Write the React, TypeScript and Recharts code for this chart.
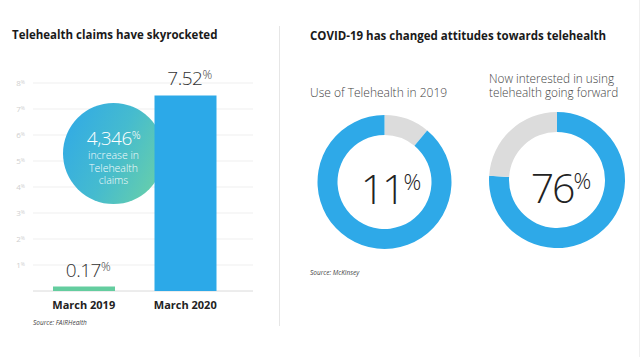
import React from 'react';
import {
  BarChart, Bar, XAxis, YAxis, CartesianGrid, Cell, LabelList,
  PieChart, Pie,
} from 'recharts';

const categories = ['March 2019', 'March 2020'];
const claimShare = [0.17, 7.52];
const barColors = ['#64cd9f', '#2ca9e8'];
const yTicks = [1, 2, 3, 4, 5, 6, 7, 8];

const donutLabels = ['11', '76'];
const use2019 = [
  { name: 'gap', value: 11, fill: '#dcdcdc' },
  { name: 'used', value: 89, fill: '#2ea9e8' },
];
const interested = [
  { name: 'yes', value: 76, fill: '#2ea9e8' },
  { name: 'no', value: 24, fill: '#dcdcdc' },
];

const barData = categories.map((c, i) => ({ name: c, value: claimShare[i] }));

const FONT = '"Open Sans", sans-serif';
const W = 280;
const H = 357;
// x axis height (30) sits inside the bottom margin
const MARGIN = { top: 83, right: 27, left: 0, bottom: 36 };

const YTick = (props: any) => {
  const { x, y, payload } = props;
  return (
    <text x={x} y={y + 3} textAnchor="end" fill="#cfcfcf" fontSize={8} fontFamily={FONT}>
      {payload.value}
      <tspan fontSize={5} dy={-2}>%</tspan>
    </text>
  );
};

const XTick = (props: any) => {
  const { x, y, payload } = props;
  return (
    <text x={x} y={y + 10} textAnchor="middle" fill="#222" fontSize={11} fontWeight={700} fontFamily={FONT}>
      {payload.value}
    </text>
  );
};

const ValueLabel = (props: any) => {
  const { x, y, width, value } = props;
  return (
    <text x={x + width / 2 + 4} y={y - 10} textAnchor="middle" fill="#333" fontSize={19} fontWeight={300} fontFamily={FONT} letterSpacing={-0.5}>
      {value}
      <tspan fontSize={12} dy={-6}>%</tspan>
    </text>
  );
};

const CenterText = ({ left, top, txt }: { left: number; top: number; txt: string }) => (
  <div style={{
    position: 'absolute', left: left - 60, top: top - 30, width: 120, height: 60,
    textAlign: 'center', fontSize: 41, fontWeight: 300, color: '#222', lineHeight: '60px', letterSpacing: -2,
  }}>
    {txt}<span style={{ fontSize: 22, verticalAlign: 14, letterSpacing: 0 }}>%</span>
  </div>
);

export default function App() {
  return (
    <div style={{ position: 'absolute', left: 0, top: 0, width: 641, height: 357, background: '#fff', fontFamily: FONT, overflow: 'hidden' }}>
      <div style={{ position: 'absolute', left: 12, top: 27, fontSize: 11.5, fontWeight: 700, color: '#1a1a1a', whiteSpace: 'nowrap' }}>
        Telehealth claims have skyrocketed
      </div>
      <div style={{ position: 'absolute', left: 310, top: 28, fontSize: 11.5, fontWeight: 700, color: '#1a1a1a', whiteSpace: 'nowrap' }}>
        COVID-19 has changed attitudes towards telehealth
      </div>

      {/* bottom layer: grid + axes */}
      <div style={{ position: 'absolute', left: 0, top: 0 }}>
        <BarChart width={W} height={H} data={barData} margin={MARGIN}>
          <CartesianGrid vertical={false} stroke="#efefef" />
          <XAxis dataKey="name" tick={<XTick />} tickLine={false} axisLine={{ stroke: '#e2e2e2' }} padding={{ left: 0, right: 17 }} interval={0} />
          <YAxis domain={[0, 8]} ticks={yTicks} interval={0} tick={<YTick />} tickLine={false} axisLine={false} width={33} tickSize={0} tickMargin={8} />
          <Bar dataKey="value" barSize={62} fill="transparent" isAnimationActive={false} />
        </BarChart>
      </div>

      {/* bubble */}
      <div style={{
        position: 'absolute', left: 63, top: 103, width: 101, height: 101, borderRadius: '50%',
        background: 'linear-gradient(115deg, #2fa8e8 0%, #45bbcf 50%, #6fd3a2 100%)',
        color: '#fff', textAlign: 'center',
      }}>
        <div style={{ marginTop: 21, fontSize: 19, fontWeight: 300, letterSpacing: -0.5, lineHeight: '22px' }}>
          4,346<span style={{ fontSize: 11, verticalAlign: 6 }}>%</span>
        </div>
        <div style={{ fontSize: 10.5, fontWeight: 300, lineHeight: '12.5px', opacity: 0.95 }}>
          increase in<br />Telehealth<br />claims
        </div>
      </div>

      {/* top layer: bars */}
      <div style={{ position: 'absolute', left: 0, top: 0 }}>
        <BarChart width={W} height={H} data={barData} margin={MARGIN}>
          <XAxis dataKey="name" tick={false} tickLine={false} axisLine={false} padding={{ left: 0, right: 17 }} />
          <YAxis domain={[0, 8]} ticks={yTicks} tick={false} tickLine={false} axisLine={false} width={33} />
          <Bar dataKey="value" barSize={62} isAnimationActive={false}>
            {barData.map((d, i) => <Cell key={d.name} fill={barColors[i]} />)}
            <LabelList dataKey="value" content={<ValueLabel />} />
          </Bar>
        </BarChart>
      </div>

      <div style={{ position: 'absolute', left: 33, top: 318, fontSize: 6.5, color: '#444', fontStyle: 'italic' }}>
        Source: FAIRHealth
      </div>

      <div style={{ position: 'absolute', left: 279, top: 26, width: 1, height: 300, background: '#e6e6e6' }} />
      <div style={{ position: 'absolute', left: 639, top: 0, width: 1, height: 357, background: '#f0f0f0' }} />

      <div style={{ position: 'absolute', left: 310, top: 84, fontSize: 12, fontWeight: 300, color: '#444', whiteSpace: 'nowrap' }}>
        Use of Telehealth in 2019
      </div>
      <div style={{ position: 'absolute', left: 489, top: 72, fontSize: 11.8, fontWeight: 300, color: '#444', lineHeight: '13.5px', whiteSpace: 'nowrap' }}>
        Now interested in using<br />telehealth going forward
      </div>

      <div style={{ position: 'absolute', left: 280, top: 0 }}>
        <PieChart width={361} height={H} margin={{ top: 0, right: 0, bottom: 0, left: 0 }}>
          <Pie data={use2019} dataKey="value" cx={104.5} cy={182} innerRadius={47} outerRadius={67}
            startAngle={90} endAngle={-270} stroke="none" isAnimationActive={false} />
          <Pie data={interested} dataKey="value" cx={277} cy={180} innerRadius={48} outerRadius={68}
            startAngle={90} endAngle={-270} stroke="none" isAnimationActive={false} />
        </PieChart>
      </div>

      <CenterText left={391} top={181} txt={donutLabels[0]} />
      <CenterText left={561} top={180} txt={donutLabels[1]} />

      <div style={{ position: 'absolute', left: 310, top: 268, fontSize: 6.5, color: '#444', fontStyle: 'italic' }}>
        Source: McKinsey
      </div>
    </div>
  );
}
